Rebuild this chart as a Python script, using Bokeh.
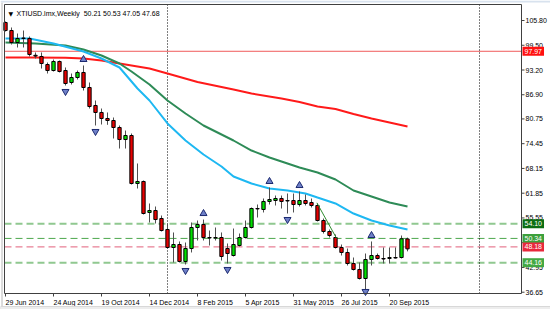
from bokeh.plotting import figure
from bokeh.models import Range1d, Label, BoxAnnotation, ColumnDataSource
from bokeh.core.properties import value
from bokeh.embed import file_html
from bokeh.resources import INLINE

# ---------------- data ----------------
symbol_text = "XTIUSD.lmx,Weekly"
ohlc_text = "50.21 50.53 47.05 47.68"

date_idx = [0, 8, 16, 24, 32, 40, 48, 56, 64]
date_labels = ["29 Jun 2014", "24 Aug 2014", "19 Oct 2014", "14 Dec 2014", "8 Feb 2015",
               "5 Apr 2015", "31 May 2015", "26 Jul 2015", "20 Sep 2015"]

price_ticks = [105.80, 99.50, 93.20, 86.90, 80.75, 74.45, 68.15, 61.85, 55.55, 49.25, 42.95, 36.65]

opens = [105.29, 103.25, 100.20, 101.35, 101.22, 96.95, 96.64, 94.60, 93.07, 95.37,
         93.07, 90.02, 91.29, 92.57, 88.75, 84.17, 82.39, 80.86, 80.35, 78.57,
         75.51, 76.53, 64.32, 64.83, 56.94, 57.44, 55.41, 52.61, 48.03, 48.79,
         44.47, 47.77, 53.12, 53.88, 50.57, 50.57, 50.57, 47.77, 45.99, 48.54,
         50.57, 53.12, 57.95, 57.70, 59.74, 59.99, 60.50, 59.99, 59.99, 58.97,
         59.99, 59.48, 58.72, 54.90, 52.10, 50.57, 48.03, 46.76, 43.96, 42.43,
         40.14, 44.97, 45.99, 45.23, 45.23, 45.48, 45.48, 50.21]
highs = [105.55, 104.02, 102.49, 103.25, 101.73, 97.66, 97.66, 95.11, 95.87, 95.62,
         93.84, 92.31, 93.07, 94.35, 90.02, 85.44, 83.40, 82.39, 81.11, 79.08,
         77.80, 77.04, 69.41, 65.08, 59.23, 58.46, 56.17, 54.14, 51.85, 49.56,
         49.30, 54.39, 54.90, 55.15, 52.35, 53.12, 51.85, 49.05, 52.86, 51.59,
         54.90, 58.21, 58.97, 60.50, 63.30, 61.26, 61.26, 61.77, 61.77, 62.28,
         61.52, 60.50, 59.23, 55.41, 52.61, 51.34, 48.79, 47.77, 45.48, 44.21,
         46.50, 49.56, 46.50, 48.03, 48.03, 48.03, 51.08, 50.53]
lows = [103.00, 99.69, 98.93, 98.93, 96.64, 96.13, 93.58, 92.31, 92.82, 92.57,
        89.26, 89.51, 90.78, 87.98, 83.40, 79.08, 79.33, 79.25, 75.77, 73.22,
        73.22, 64.06, 63.04, 56.43, 54.39, 54.14, 52.10, 47.77, 44.21, 44.21,
        43.70, 46.76, 49.81, 49.81, 48.54, 49.81, 44.72, 43.96, 45.74, 48.28,
        50.32, 52.86, 55.66, 56.94, 58.97, 58.72, 57.95, 56.68, 56.94, 58.46,
        58.72, 58.21, 54.65, 51.59, 50.57, 47.77, 45.99, 43.45, 42.17, 39.88,
        37.08, 43.45, 44.97, 43.96, 43.96, 45.23, 45.23, 47.05]
closes = [103.25, 100.20, 101.22, 101.22, 97.15, 96.75, 94.86, 93.07, 95.37, 92.82,
          89.77, 91.29, 92.57, 88.75, 83.91, 82.39, 80.86, 80.35, 78.57, 75.51,
          76.53, 64.32, 64.83, 56.68, 57.44, 55.15, 52.35, 48.03, 48.79, 44.47,
          47.77, 53.12, 53.88, 50.57, 50.45, 50.45, 45.74, 46.50, 48.79, 50.57,
          53.12, 57.95, 57.85, 59.74, 60.24, 60.50, 59.74, 59.87, 58.97, 59.99,
          59.23, 58.72, 54.90, 52.10, 51.08, 48.03, 46.76, 43.96, 42.43, 40.14,
          44.97, 45.99, 45.23, 45.10, 45.48, 45.35, 50.25, 47.68]

ma_slow_idx = [0, 4, 10, 13, 16, 19, 24, 27, 32, 38, 41, 46, 49, 52, 55, 58, 61, 64, 67]
ma_slow = [96.38, 96.40, 96.30, 96.13, 95.62, 94.86, 93.58, 92.31, 90.15, 88.24,
           87.22, 85.95, 85.06, 83.91, 83.27, 81.99, 80.86, 79.84, 78.82]

ma_mid_idx = [0, 5, 10, 13, 16, 19, 21, 24, 27, 30, 33, 36, 38, 41, 44, 46, 49, 52, 55, 58, 61, 64, 67]
ma_mid = [100.20, 99.95, 99.44, 98.42, 96.89, 94.86, 92.82, 89.51, 85.44, 82.13, 79.08,
          76.79, 75.26, 72.71, 70.93, 69.92, 68.39, 67.12, 65.33, 62.53, 61.01, 59.48, 58.46]

ma_fast_idx = [0, 4, 8, 13, 16, 19, 22, 24, 27, 30, 33, 36, 38, 41, 44, 47, 50, 52, 55, 58, 61, 64, 67]
ma_fast = [101.22, 101.22, 99.95, 97.91, 96.13, 93.84, 88.50, 85.44, 79.59, 75.26, 71.70,
           68.65, 66.10, 64.32, 63.04, 62.53, 61.77, 60.75, 59.23, 56.68, 54.90, 53.63, 52.61]

up_fractal_idx = [13, 33, 44, 49, 61]
down_fractal_idx = [10, 15, 30, 37, 47, 60]

trend_idx = [51.9, 55.2]
trend_price = [59.4, 50.3]

separator_idx = [27, 79]

level_values = [97.97, 54.10, 50.34, 48.18, 44.16]
level_line_colors = ["#F05A5A", "#90C890", "#4CA84C", "#E2607A", "#90C890"]
level_line_widths = [1, 2, 1, 1, 2]
level_line_dashes = ["solid", "7 4", "7 4", "7 4", "7 4"]
level_box_colors = ["#FF1010", "#0B6E12", "#3CA03C", "#E8283C", "#43A843"]

# ---------------- layout constants (chart window geometry) ----------------
FONT = "Liberation Sans"
W, H = 550, 309
XU = 1.0 / 6.0          # index units per pixel
YU = 0.2545             # price units per pixel
X0 = -5 * XU            # index at canvas left edge
Y_TOP = 110.89          # price at canvas top edge
frame_l, frame_r = X0 + 4 * XU, X0 + 521 * XU
frame_t, frame_b = Y_TOP - 4 * YU, Y_TOP - 293 * YU

p = figure(width=W, height=H,
           x_range=Range1d(X0, X0 + W * XU), y_range=Range1d(Y_TOP - H * YU, Y_TOP),
           output_backend="svg", toolbar_location=None,
           min_border_left=0, min_border_right=0, min_border_top=0, min_border_bottom=0)
p.xaxis.visible = False
p.yaxis.visible = False
p.xgrid.visible = False
p.ygrid.visible = False
p.outline_line_color = None
p.background_fill_color = "white"
p.border_fill_color = "white"

# window decorations
p.add_layout(BoxAnnotation(left=X0, right=X0 + W * XU, top=Y_TOP - 306 * YU, bottom=Y_TOP - H * YU,
                           fill_color="#EDEDED", fill_alpha=1, line_color="#D8D8D8", line_alpha=1))
p.add_layout(BoxAnnotation(left=X0, right=X0 + W * XU, top=Y_TOP, bottom=Y_TOP - 2 * YU,
                           fill_color="#D8E2EE", fill_alpha=1, line_color=None))
p.segment(x0=[X0 + 1.5 * XU], y0=[Y_TOP - 2 * YU], x1=[X0 + 1.5 * XU], y1=[Y_TOP - 306 * YU],
          line_color="#B8B8B8", line_width=1)

# level lines
for val, c, w, d in zip(level_values, level_line_colors, level_line_widths, level_line_dashes):
    p.segment(x0=[frame_l], y0=[val], x1=[frame_r], y1=[val], line_color=c, line_width=w, line_dash=d)

# period separators
p.segment(x0=separator_idx, y0=[frame_b] * len(separator_idx), x1=separator_idx,
          y1=[frame_t] * len(separator_idx), line_color="#000000", line_width=1, line_dash="1 2")

# moving averages
p.line(ma_slow_idx, ma_slow, line_color="#FF1A1A", line_width=2)
p.line(ma_mid_idx, ma_mid, line_color="#2E8B57", line_width=2)
p.line(ma_fast_idx, ma_fast, line_color="#1EB8F2", line_width=2)

# candles
idx = list(range(len(opens)))
tops = [max(o, c) for o, c in zip(opens, closes)]
bots = [min(o, c) for o, c in zip(opens, closes)]
cols = ["#00E000" if c >= o else "#E80000" for o, c in zip(opens, closes)]
src = ColumnDataSource(dict(x=idx, high=highs, low=lows, top=tops, bottom=bots, color=cols))
p.segment(x0="x", y0="low", x1="x", y1="high", source=src, line_color="#505050", line_width=1)
p.vbar(x="x", top="top", bottom="bottom", width=0.55, source=src,
       fill_color="color", line_color="#000000", line_width=1)

# trend line
p.line(trend_idx, trend_price, line_color="#2E8B2E", line_width=1)

# fractals
pad = 6 * YU
p.scatter(up_fractal_idx, [highs[i] + pad for i in up_fractal_idx], marker="triangle",
          size=7, fill_color="#6F80C8", line_color="#1C2A70", line_width=1)
p.scatter(down_fractal_idx, [max(lows[i] - pad, frame_b + 2 * YU) for i in down_fractal_idx],
          marker="inverted_triangle",
          size=7, fill_color="#6F80C8", line_color="#1C2A70", line_width=1)

# chart frame (axis lines)
p.add_layout(BoxAnnotation(left=frame_l, right=frame_r, top=frame_t, bottom=frame_b,
                           fill_alpha=0, line_color="#404040", line_width=1, line_alpha=1))

# price scale (right)
n = len(price_ticks)
p.segment(x0=[frame_r] * n, y0=price_ticks, x1=[frame_r + 3 * XU] * n, y1=price_ticks,
          line_color="#404040", line_width=1)
p.text(x=[frame_r + 4 * XU] * n, y=price_ticks, text=[f"{t:.2f}" for t in price_ticks],
       text_font=value(FONT), text_font_size=value("7px"), text_color="#000000",
       text_align="left", text_baseline="middle")

# time scale (bottom)
m = len(date_idx)
p.segment(x0=date_idx, y0=[frame_b] * m, x1=date_idx, y1=[frame_b - 3 * YU] * m,
          line_color="#404040", line_width=1)
p.text(x=date_idx, y=[frame_b - 8.5 * YU] * m, text=date_labels,
       text_font=value(FONT), text_font_size=value("7px"), text_color="#000000",
       text_align="left", text_baseline="middle")

# price labels for level lines
for val, bc in zip(level_values, level_box_colors):
    p.add_layout(Label(x=frame_r + 1 * XU, y=val, text=f"{val:.2f}",
                       text_font=FONT, text_font_size="7px", text_color="white",
                       text_baseline="middle", text_align="left",
                       background_fill_color=bc, background_fill_alpha=1, padding=2))

# title
p.add_layout(Label(x=8, y=H - 12.5, x_units="screen", y_units="screen", text="\u25BC",
                   text_font="DejaVu Sans", text_font_size="6px", text_color="#000000",
                   text_baseline="middle"))
p.add_layout(Label(x=16, y=H - 12.5, x_units="screen", y_units="screen",
                   text=symbol_text + "\u00A0\u00A0" + ohlc_text,
                   text_font=FONT, text_font_size="7px", text_color="#000000",
                   text_baseline="middle"))

open("out.html", "w").write(file_html(p, INLINE))
